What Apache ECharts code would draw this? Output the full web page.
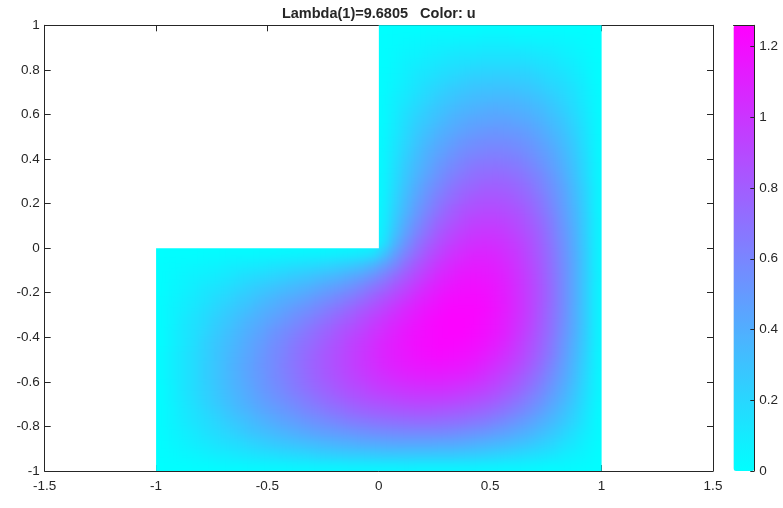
<!DOCTYPE html>
<html>
<head>
<meta charset="utf-8">
<script src="https://cdn.jsdelivr.net/npm/echarts@6/dist/echarts.min.js"></script>
<style>
html,body{margin:0;padding:0;background:#fff}
#wrap{position:relative;width:783px;height:508px}
#chart,#field{position:absolute;left:0;top:0;width:783px;height:508px}
#field{filter:blur(4.5px)}
</style>
</head>
<body>
<div id="wrap"><div id="chart"></div><div id="field"></div></div>
<script>
// Cell centres (cells are 0.05 wide)
const xLower = [-0.975,-0.925,-0.875,-0.825,-0.775,-0.725,-0.675,-0.625,-0.575,-0.525,-0.475,-0.425,-0.375,-0.325,-0.275,-0.225,-0.175,-0.125,-0.075,-0.025,
                0.025,0.075,0.125,0.175,0.225,0.275,0.325,0.375,0.425,0.475,0.525,0.575,0.625,0.675,0.725,0.775,0.825,0.875,0.925,0.975];
const yLower = [-0.975,-0.925,-0.875,-0.825,-0.775,-0.725,-0.675,-0.625,-0.575,-0.525,-0.475,-0.425,-0.375,-0.325,-0.275,-0.225,-0.175,-0.125,-0.075,-0.025];
const xUpper = [0.025,0.075,0.125,0.175,0.225,0.275,0.325,0.375,0.425,0.475,0.525,0.575,0.625,0.675,0.725,0.775,0.825,0.875,0.925,0.975];
const yUpper = [0.025,0.075,0.125,0.175,0.225,0.275,0.325,0.375,0.425,0.475,0.525,0.575,0.625,0.675,0.725,0.775,0.825,0.875,0.925,0.975];

// u values, lower strip (y from -1 up to 0), x from -1 to 1
const uLower = [
[0,.01,.01,.02,.02,.03,.04,.04,.05,.05,.06,.06,.07,.07,.08,.08,.08,.09,.09,.09, .09,.09,.10,.09,.09,.09,.09,.09,.09,.08,.08,.07,.07,.06,.05,.04,.04,.03,.02,.01],
[.01,.02,.04,.05,.07,.09,.10,.12,.13,.15,.16,.18,.19,.20,.22,.23,.24,.25,.25,.26, .27,.27,.27,.27,.27,.27,.27,.26,.25,.24,.22,.21,.19,.17,.15,.13,.10,.07,.05,.02],
[.01,.04,.06,.09,.11,.14,.16,.18,.21,.23,.26,.28,.30,.32,.34,.36,.38,.39,.41,.42, .43,.44,.44,.44,.44,.43,.43,.42,.40,.38,.36,.34,.31,.28,.24,.21,.16,.12,.07,.03],
[.02,.05,.08,.11,.15,.18,.21,.24,.28,.31,.34,.37,.40,.43,.46,.48,.50,.52,.54,.56, .57,.58,.59,.59,.59,.59,.58,.56,.54,.52,.49,.46,.42,.38,.33,.28,.22,.16,.10,.04],
[.02,.06,.10,.14,.17,.21,.25,.29,.33,.37,.41,.45,.48,.52,.55,.58,.61,.64,.66,.68, .70,.71,.72,.73,.73,.72,.71,.70,.67,.65,.61,.57,.52,.47,.41,.35,.28,.21,.13,.04],
[.02,.06,.11,.15,.20,.24,.29,.34,.38,.43,.47,.51,.55,.60,.63,.67,.70,.74,.77,.79, .81,.83,.84,.85,.85,.84,.83,.81,.79,.76,.72,.67,.62,.56,.49,.41,.33,.24,.15,.05],
[.02,.07,.12,.17,.22,.27,.32,.37,.42,.47,.52,.56,.61,.65,.70,.74,.78,.82,.85,.88, .90,.92,.94,.95,.95,.95,.94,.92,.89,.86,.82,.76,.70,.63,.56,.47,.38,.28,.17,.06],
[.02,.07,.13,.18,.23,.28,.34,.39,.44,.50,.55,.60,.65,.70,.75,.79,.84,.88,.91,.95, .98,1.00,1.02,1.03,1.04,1.04,1.03,1.01,.98,.95,.90,.84,.78,.70,.62,.52,.42,.31,.19,.07],
[.03,.08,.13,.18,.24,.29,.35,.40,.46,.51,.57,.62,.67,.73,.78,.83,.87,.92,.96,1.00, 1.03,1.06,1.08,1.10,1.11,1.11,1.10,1.09,1.06,1.02,.97,.91,.84,.76,.67,.57,.46,.34,.21,.07],
[.03,.08,.13,.18,.24,.29,.35,.41,.46,.52,.57,.63,.68,.74,.79,.84,.89,.94,.99,1.03, 1.07,1.10,1.13,1.15,1.16,1.17,1.16,1.15,1.12,1.08,1.03,.97,.90,.82,.72,.61,.49,.36,.22,.08],
[.03,.08,.13,.18,.23,.29,.34,.40,.45,.51,.57,.62,.68,.73,.79,.84,.89,.94,.99,1.04, 1.08,1.12,1.15,1.18,1.20,1.21,1.20,1.19,1.17,1.13,1.08,1.02,.95,.86,.76,.65,.52,.38,.24,.08],
[.02,.07,.12,.17,.23,.28,.33,.38,.44,.49,.55,.60,.66,.71,.76,.82,.87,.93,.98,1.03, 1.08,1.12,1.16,1.19,1.21,1.23,1.23,1.22,1.20,1.17,1.12,1.06,.98,.89,.79,.67,.54,.40,.25,.09],
[.02,.07,.12,.16,.21,.26,.31,.36,.41,.46,.52,.57,.62,.67,.73,.78,.84,.89,.94,1.00, 1.05,1.10,1.15,1.18,1.21,1.23,1.24,1.24,1.22,1.19,1.15,1.09,1.01,.92,.81,.70,.56,.42,.26,.09],
[.02,.06,.11,.15,.19,.24,.28,.33,.38,.42,.47,.52,.57,.62,.67,.72,.78,.83,.89,.95, 1.01,1.06,1.11,1.16,1.20,1.23,1.24,1.24,1.23,1.20,1.16,1.10,1.03,.94,.83,.71,.58,.43,.27,.09],
[.02,.06,.09,.13,.17,.21,.25,.29,.33,.38,.42,.46,.51,.55,.60,.65,.70,.76,.82,.88, .94,1.01,1.07,1.12,1.17,1.20,1.23,1.23,1.23,1.21,1.17,1.11,1.04,.95,.84,.72,.59,.43,.27,.09],
[.02,.05,.08,.11,.14,.18,.21,.25,.28,.32,.36,.40,.43,.47,.52,.56,.61,.66,.72,.79, .86,.93,1.00,1.07,1.12,1.17,1.20,1.21,1.21,1.20,1.16,1.11,1.04,.95,.85,.73,.59,.44,.27,.09],
[.01,.04,.06,.09,.12,.14,.17,.20,.23,.26,.29,.32,.35,.38,.42,.46,.50,.55,.61,.68, .75,.84,.92,1.00,1.07,1.12,1.16,1.18,1.19,1.18,1.15,1.10,1.03,.95,.85,.73,.59,.44,.27,.09],
[.01,.03,.05,.07,.08,.10,.12,.15,.17,.19,.21,.23,.26,.28,.31,.34,.37,.42,.47,.54, .63,.73,.83,.92,1.00,1.07,1.11,1.15,1.16,1.15,1.13,1.08,1.02,.94,.84,.72,.59,.44,.27,.10],
[.01,.02,.03,.04,.05,.06,.08,.09,.10,.11,.13,.14,.16,.17,.19,.21,.23,.26,.30,.37, .48,.60,.73,.84,.93,1.01,1.06,1.10,1.12,1.12,1.10,1.06,1.00,.92,.83,.71,.58,.44,.27,.09],
[0,.01,.01,.01,.02,.02,.03,.03,.03,.04,.04,.05,.05,.06,.06,.07,.08,.09,.11,.15, .29,.48,.63,.75,.86,.94,1.01,1.05,1.08,1.08,1.07,1.03,.98,.90,.81,.70,.57,.43,.27,.09]
];

// u values, upper square (y from 0 up to 1), x from 0 to 1
const uUpper = [
[.15,.37,.54,.68,.79,.88,.95,1.00,1.03,1.04,1.03,1.00,.95,.88,.79,.68,.56,.42,.26,.09],
[.11,.30,.47,.61,.72,.82,.89,.94,.98,.99,.99,.96,.91,.85,.77,.66,.54,.41,.25,.09],
[.09,.26,.42,.55,.66,.76,.83,.89,.93,.94,.94,.92,.88,.82,.74,.64,.52,.39,.25,.09],
[.08,.23,.37,.50,.61,.70,.78,.84,.87,.89,.89,.87,.84,.78,.70,.61,.50,.38,.24,.08],
[.07,.21,.34,.46,.56,.65,.72,.78,.82,.84,.84,.83,.79,.74,.67,.58,.48,.36,.23,.08],
[.06,.19,.31,.42,.52,.60,.67,.73,.76,.79,.79,.78,.75,.70,.63,.55,.46,.34,.22,.08],
[.06,.17,.28,.38,.47,.55,.62,.67,.71,.73,.74,.73,.70,.65,.60,.52,.43,.32,.20,.07],
[.05,.16,.26,.35,.43,.51,.57,.62,.66,.68,.68,.67,.65,.61,.55,.48,.40,.30,.19,.07],
[.05,.14,.23,.32,.40,.46,.52,.57,.60,.62,.63,.62,.60,.56,.51,.45,.37,.28,.18,.06],
[.04,.13,.21,.29,.36,.42,.47,.52,.55,.57,.57,.57,.55,.52,.47,.41,.34,.26,.16,.06],
[.04,.11,.19,.26,.32,.38,.42,.46,.49,.51,.52,.51,.50,.47,.43,.37,.31,.23,.15,.05],
[.03,.10,.17,.23,.28,.33,.38,.41,.44,.45,.46,.46,.44,.42,.38,.33,.28,.21,.13,.05],
[.03,.09,.15,.20,.25,.29,.33,.36,.38,.40,.41,.40,.39,.37,.34,.29,.24,.18,.12,.04],
[.03,.08,.12,.17,.21,.25,.28,.31,.33,.34,.35,.35,.34,.32,.29,.25,.21,.16,.10,.04],
[.02,.06,.10,.14,.18,.21,.24,.26,.28,.29,.29,.29,.28,.27,.24,.21,.18,.14,.09,.03],
[.02,.05,.08,.12,.14,.17,.19,.21,.23,.23,.24,.24,.23,.22,.20,.17,.15,.11,.07,.02],
[.01,.04,.07,.09,.11,.13,.15,.16,.17,.18,.18,.18,.18,.17,.15,.14,.11,.09,.05,.02],
[.01,.03,.05,.06,.08,.09,.11,.12,.12,.13,.13,.13,.13,.12,.11,.10,.08,.06,.04,.01],
[.01,.02,.03,.04,.05,.06,.06,.07,.07,.08,.08,.08,.07,.07,.06,.06,.05,.04,.02,.01],
[0,.01,.01,.01,.02,.02,.02,.02,.02,.03,.03,.03,.02,.02,.02,.02,.02,.01,.01,0]
];

// Outline of the L-shaped domain (data coordinates)
const domainOutline = [[-1,-1],[1,-1],[1,1],[0,1],[0,0],[-1,0]];
const colorRange = [0, 1.26];
const titleText = 'Lambda(1)=9.6805   Color: u';

const cells = [];
yLower.forEach((y, r) => xLower.forEach((x, c) => cells.push([x, y, uLower[r][c]])));
yUpper.forEach((y, r) => xUpper.forEach((x, c) => cells.push([x, y, uUpper[r][c]])));

const HALF = 0.025;
const INK = '#262626';
const FONT = 'Liberation Sans, Arial, sans-serif';
const MAIN_GRID = { left: 44.7, top: 25.3, width: 668.3, height: 445.7 };
const CBAR_GRID = { left: 733.5, top: 25.3, width: 20.8, height: 445.7 };
const colorStops = ['#00ffff', '#ff00ff'];

const axisCommon = {
  type: 'value', splitLine: { show: false },
  axisLine: { show: true, onZero: false, lineStyle: { color: INK, width: 1 } },
  axisTick: { show: true, inside: true, length: 6, lineStyle: { color: INK, width: 1 } },
  axisLabel: { color: INK, fontSize: 13.5, fontFamily: FONT }
};

// Axes, title and colour bar
const chart = echarts.init(document.getElementById('chart'), null, { renderer: 'canvas' });
chart.setOption({
  backgroundColor: '#fff',
  animation: false,
  graphic: [{
    type: 'text', x: 378.8, y: 13.5, z: 100,
    style: { text: titleText, fill: INK, font: 'bold 14.5px ' + FONT, align: 'center', verticalAlign: 'middle' }
  }],
  grid: [MAIN_GRID, CBAR_GRID],
  xAxis: [
    Object.assign({}, axisCommon, { gridIndex: 0, position: 'bottom', min: -1.5, max: 1.5, interval: 0.5,
      axisLabel: Object.assign({}, axisCommon.axisLabel, { margin: 8 }) }),
    Object.assign({}, axisCommon, { gridIndex: 0, position: 'top', min: -1.5, max: 1.5, interval: 0.5,
      axisLabel: { show: false } }),
    Object.assign({}, axisCommon, { gridIndex: 1, position: 'top', min: 0, max: 1, z: 10,
      axisTick: { show: false }, axisLabel: { show: false } })
  ],
  yAxis: [
    Object.assign({}, axisCommon, { gridIndex: 0, position: 'left', min: -1, max: 1, interval: 0.2,
      axisLabel: Object.assign({}, axisCommon.axisLabel, { margin: 5 }) }),
    Object.assign({}, axisCommon, { gridIndex: 0, position: 'right', min: -1, max: 1, interval: 0.2,
      axisLabel: { show: false } }),
    Object.assign({}, axisCommon, { gridIndex: 1, position: 'right', min: colorRange[0], max: colorRange[1], interval: 0.2, z: 10,
      axisTick: { show: true, inside: true, length: 4, lineStyle: { color: INK, width: 1 } },
      axisLabel: Object.assign({}, axisCommon.axisLabel, { margin: 5, showMaxLabel: false }) })
  ],
  visualMap: {
    type: 'continuous', dimension: 0, seriesIndex: [],
    min: colorRange[0], max: colorRange[1],
    inRange: { color: colorStops },
    calculable: false, hoverLink: false, realtime: false,
    orient: 'vertical', left: CBAR_GRID.left, top: CBAR_GRID.top, padding: 0,
    itemWidth: CBAR_GRID.width, itemHeight: CBAR_GRID.height, text: null, showLabel: false
  },
  series: []
});

// The u field, drawn as cells on the same grid and smoothed for display
const fieldEl = document.getElementById('field');
const field = echarts.init(fieldEl, null, { renderer: 'canvas' });
field.setOption({
  backgroundColor: colorStops[0],
  animation: false,
  grid: [MAIN_GRID],
  xAxis: [{ type: 'value', min: -1.5, max: 1.5, show: false }],
  yAxis: [{ type: 'value', min: -1, max: 1, show: false }],
  visualMap: {
    type: 'continuous', show: false, seriesIndex: 0, dimension: 2,
    min: colorRange[0], max: colorRange[1], inRange: { color: colorStops }
  },
  series: [{
    type: 'custom', silent: true,
    data: cells,
    renderItem: function (params, api) {
      const x = api.value(0), y = api.value(1);
      const p0 = api.coord([x - HALF, y + HALF]);
      const p1 = api.coord([x + HALF, y - HALF]);
      return {
        type: 'rect',
        shape: { x: p0[0] - 0.5, y: p0[1] - 0.5, width: p1[0] - p0[0] + 1, height: p1[1] - p0[1] + 1 },
        style: { fill: api.visual('color') }
      };
    }
  }]
});
const outlinePx = domainOutline.map(p => field.convertToPixel({ gridIndex: 0 }, p));
fieldEl.style.clipPath = 'polygon(' + outlinePx.map(p => p[0].toFixed(2) + 'px ' + p[1].toFixed(2) + 'px').join(',') + ')';
</script>
</body>
</html>
